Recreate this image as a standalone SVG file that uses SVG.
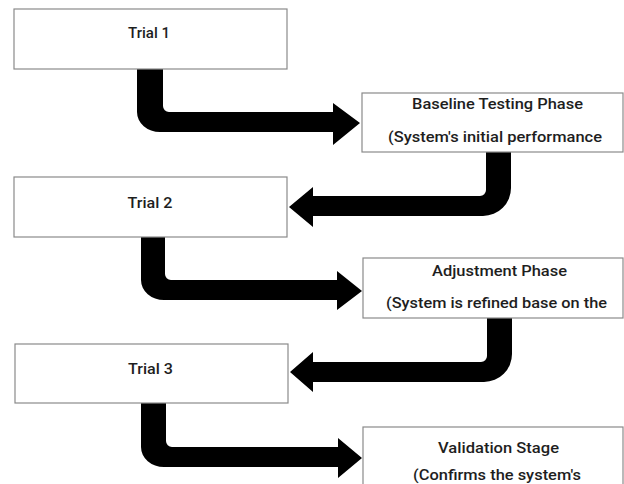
<svg xmlns="http://www.w3.org/2000/svg" width="624" height="484" viewBox="0 0 624 484">
<style>
.box{fill:#fff;stroke:#8a8a8a;stroke-width:1.2}
.t{font-family:Roboto,"Liberation Sans",sans-serif;font-size:14px;fill:#1e1e1e;text-anchor:middle;font-weight:500}
.c{fill:#000}
</style>
<rect width="624" height="484" fill="#fff"/>
<g id="connectors">
<path class="c" d="M137,69 H163 V106 A6,6 0 0 0 169,112 H333 V103 L360,123 L333,145 V132 H160 A23,20 0 0 1 137,112 Z"/>
<path class="c" d="M486,152 H511 V188 A28,28 0 0 1 483,216 H313 V227 L289,207 L313,187 V196 H480 A6,6 0 0 0 486,190 Z"/>
<path class="c" d="M141,237 H165 V274 A6,6 0 0 0 171,280 H337 V271 L362,291 L337,310 V300 H164 A23,20 0 0 1 141,280 Z"/>
<path class="c" d="M487,318 H512 V354 A28,28 0 0 1 484,382 H313 V392 L290,372 L313,352 V362 H481 A6,6 0 0 0 487,356 Z"/>
<path class="c" d="M141,403 H166 V441 A6,6 0 0 0 172,447 H338 V438 L362,458 L338,478 V467 H164 A23,20 0 0 1 141,447 Z"/>
</g>
<g id="trial1"><rect class="box" x="14" y="9" width="273" height="60"/><text class="t" x="149" y="38" textLength="42" lengthAdjust="spacingAndGlyphs">Trial 1</text></g>
<g id="baseline"><rect class="box" x="362" y="93" width="261" height="59"/><text class="t" x="497.5" y="109" textLength="171" lengthAdjust="spacingAndGlyphs">Baseline Testing Phase</text><text class="t" x="495" y="142" textLength="214" lengthAdjust="spacingAndGlyphs">(System's initial performance</text></g>
<g id="trial2"><rect class="box" x="14" y="177" width="273" height="60"/><text class="t" x="150" y="208" textLength="45" lengthAdjust="spacingAndGlyphs">Trial 2</text></g>
<g id="adjustment"><rect class="box" x="363" y="258" width="260" height="60"/><text class="t" x="499.5" y="276" textLength="135" lengthAdjust="spacingAndGlyphs">Adjustment Phase</text><text class="t" x="496.5" y="308" textLength="221" lengthAdjust="spacingAndGlyphs">(System is refined base on the</text></g>
<g id="trial3"><rect class="box" x="15" y="344" width="273" height="59"/><text class="t" x="150.5" y="374" textLength="45" lengthAdjust="spacingAndGlyphs">Trial 3</text></g>
<g id="validation"><rect class="box" x="363" y="427" width="260" height="70"/><text class="t" x="498.5" y="453" textLength="121" lengthAdjust="spacingAndGlyphs">Validation Stage</text><text class="t" x="497" y="480" textLength="168" lengthAdjust="spacingAndGlyphs">(Confirms the system's</text></g>
</svg>
